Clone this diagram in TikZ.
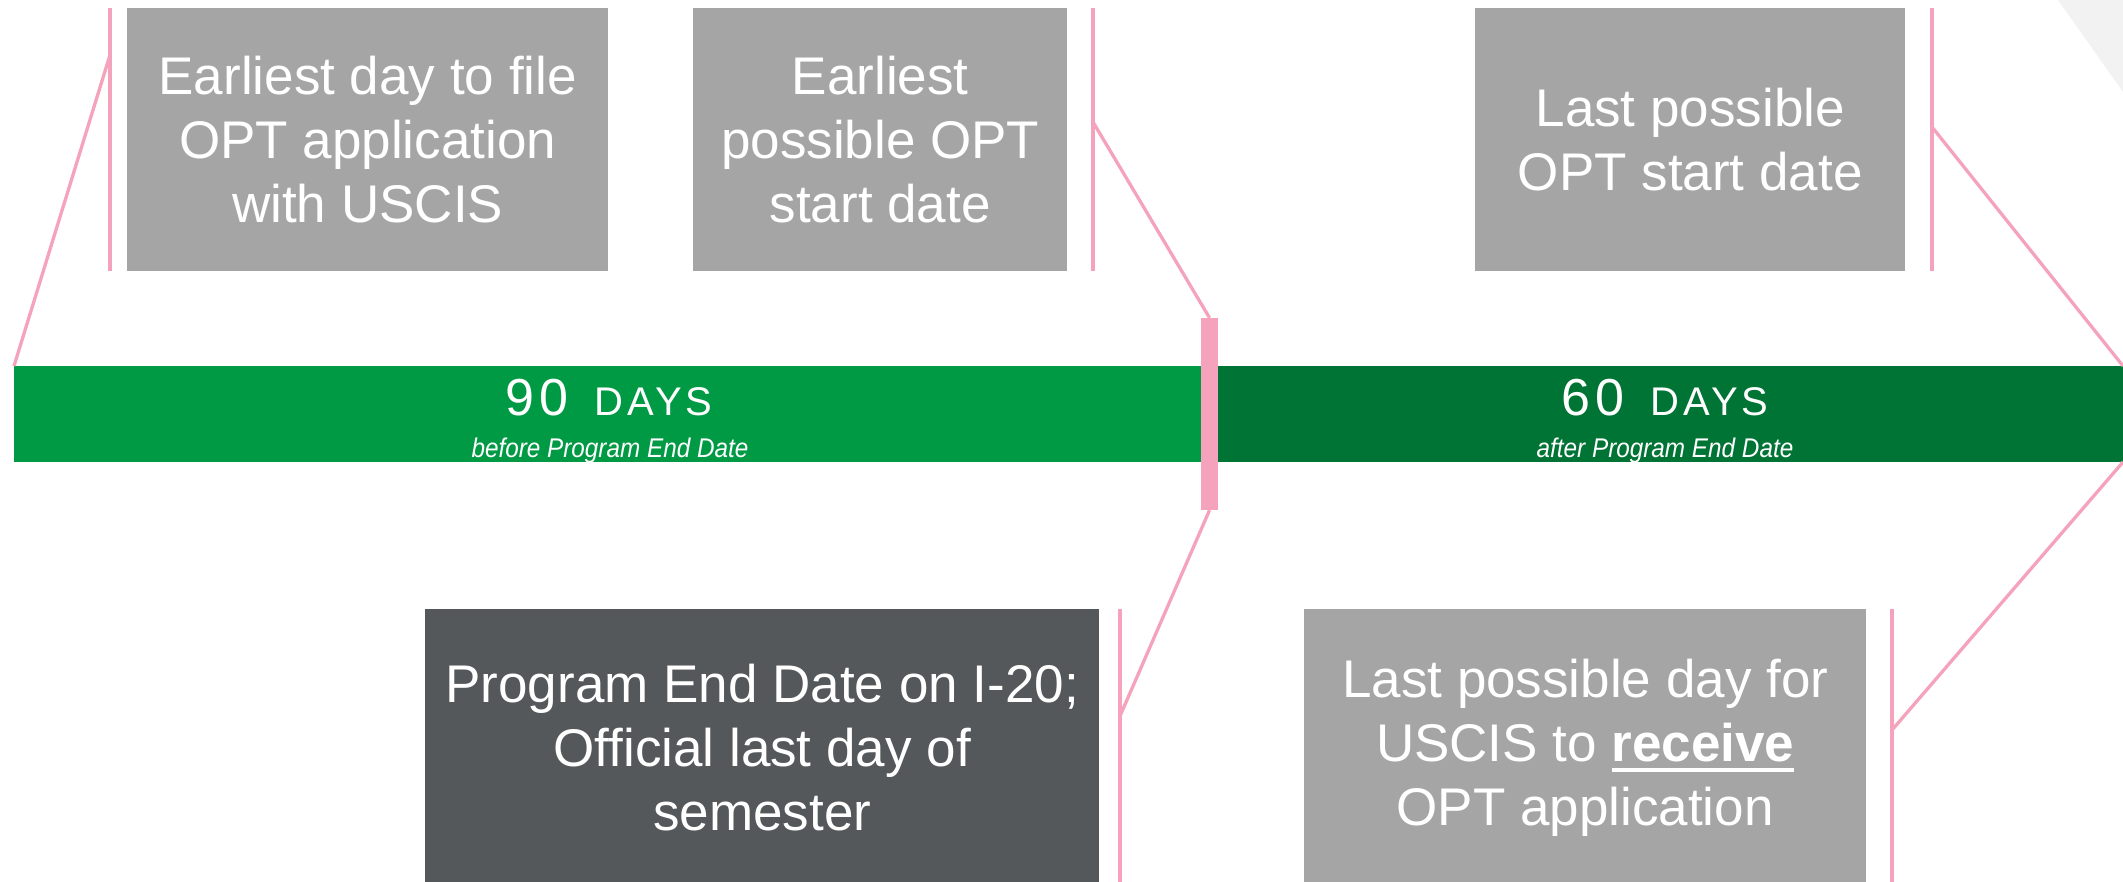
\documentclass[tikz,border=0pt]{standalone}
\usepackage{fontspec}
\setmainfont{Liberation Sans}
\newfontfamily\barfont[LetterSpace=10]{Liberation Sans}
\newfontfamily\narrowit[FakeStretch=0.9]{Liberation Sans}
\newcommand\myul[1]{\setbox0\hbox{#1}\rlap{\rule[-11pt]{\wd0}{4pt}}\box0}
\definecolor{lgreen}{RGB}{0,154,68}
\definecolor{dgreen}{RGB}{0,116,52}
\definecolor{boxgray}{RGB}{165,165,165}
\definecolor{darkbox}{RGB}{84,88,90}
\definecolor{pinkc}{RGB}{245,163,188}
\definecolor{cornergray}{RGB}{242,242,242}
\tikzset{
  gbox/.style={fill=boxgray, text=white, inner sep=0pt, align=center, anchor=north west,
    font=\fontsize{53}{64}\selectfont},
  dbox/.style={gbox, fill=darkbox},
  pinkline/.style={draw=pinkc, line width=3.3pt},
  bigtxt/.style={text=white, inner sep=0pt, anchor=base},
}
\newcommand\daystext[1]{\barfont\fontsize{52}{60}\selectfont #1\hspace{26pt}\fontsize{40}{46}\selectfont DAYS}
\begin{document}
\begin{tikzpicture}[x=1pt,y=-1pt]
\useasboundingbox (0,0) rectangle (2123,881);
\clip (0,0) rectangle (2123,881);
% corner triangle
\fill[cornergray] (2058,0) -- (2123,0) -- (2123,92) -- cycle;
% bars
\fill[lgreen] (14,366) rectangle (1202,462);
\fill[dgreen] (1202,366) rectangle (2123,462);
\coordinate (barTL) at (14,366);
\coordinate (barTR) at (2123,366);
\coordinate (barBR) at (2123,462);
% bar labels
\node[bigtxt] (d90) at (609,415) {\daystext{90}};
\node[bigtxt] (s90) at (610,457) {\narrowit\itshape\fontsize{27}{32}\selectfont before Program End Date};
\node[bigtxt] (d60) at (1665,415) {\daystext{60}};
\node[bigtxt] (s60) at (1665,457) {\narrowit\itshape\fontsize{27}{32}\selectfont after Program End Date};
% marker
\node[fill=pinkc, inner sep=0pt, minimum width=17pt, minimum height=192pt] (mk) at (1209.5,414) {};
% top boxes
\node[gbox, minimum width=481pt, minimum height=263pt] (b1) at (127,8) {Earliest day to file\\OPT application\\with USCIS};
\node[gbox, minimum width=374pt, minimum height=263pt] (b2) at (693,8) {Earliest\\possible OPT\\start date};
\node[gbox, minimum width=430pt, minimum height=263pt] (b3) at (1475,8) {Last possible\\OPT start date};
% bottom boxes
\node[dbox, minimum width=674pt, minimum height=277pt] (b4) at (425,609) {Program End Date on I-20;\\Official last day of\\semester};
\node[gbox, minimum width=562pt, minimum height=277pt] (b5) at (1304,609) {Last possible day for\\USCIS to \myul{\textbf{receive}}\\OPT application};
% vertical leader lines
\coordinate (v1t) at (110,8);   \coordinate (v1b) at (110,271); \coordinate (v1j) at (110,55);
\coordinate (v2t) at (1093,8);  \coordinate (v2b) at (1093,271); \coordinate (v2j) at (1093,122);
\coordinate (v3t) at (1932,8);  \coordinate (v3b) at (1932,271); \coordinate (v3j) at (1932,127);
\coordinate (v4t) at (1120,609); \coordinate (v4b) at (1120,890); \coordinate (v4j) at (1120,716);
\coordinate (v5t) at (1892,609); \coordinate (v5b) at (1892,890); \coordinate (v5j) at (1892,730);
\draw[pinkline] (v1t) -- (v1b);
\draw[pinkline] (v2t) -- (v2b);
\draw[pinkline] (v3t) -- (v3b);
\draw[pinkline] (v4t) -- (v4b);
\draw[pinkline] (v5t) -- (v5b);
% diagonal connectors
\draw[pinkline] (v1j) -- (barTL);
\draw[pinkline] (v2j) -- (mk.north);
\draw[pinkline] (v3j) -- (barTR);
\draw[pinkline] (v4j) -- (mk.south);
\draw[pinkline] (v5j) -- (barBR);
\end{tikzpicture}
\end{document}
